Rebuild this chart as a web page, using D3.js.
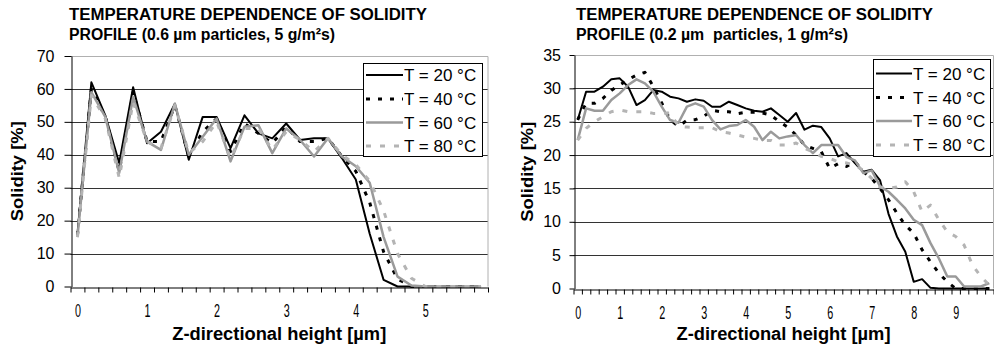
<!DOCTYPE html>
<html><head><meta charset="utf-8">
<script src="https://cdn.jsdelivr.net/npm/d3@7"></script>
<style>body{margin:0;background:#fff}svg{display:block}text{font-family:"Liberation Sans",Arial,sans-serif}</style>
</head><body><svg id="c" width="994" height="360"></svg>
<script>
const leftCats = [0,0.2,0.4,0.6,0.8,1,1.2,1.4,1.6,1.8,2,2.2,2.4,2.6,2.8,3,3.2,3.4,3.6,3.8,4,4.2,4.4,4.6,4.8,5,5.2,5.4,5.6,5.8];
const leftT20 = [16,62,52,37.5,60.5,43.5,47,55.5,38.5,51.5,51.5,42,52,46.5,45,49.5,44.5,45,45,39,32.5,16,2,0,0,0,0,0,0,0];
const leftT40 = [15.5,60,51.5,35,59,44,44,55,39.5,47,51,41,49.5,46.5,43.5,48.5,44,44,45,39.5,35,25.5,10.5,2.3,0,0,0,0,0,0];
const leftT60 = [15,59,51.5,34.5,57.5,44,41.5,55.5,40,45.5,51,38,48.5,49,40.5,48,44.5,39.5,45,39.5,36.5,31.5,15,3,0.3,0,0,0,0,0];
const leftT80 = [15,58,51,33,56,44,42,55,40.5,44,50,39,48,48,41.5,47,44.5,41,45,40,37,32,23,10,2.5,0,0,0,0,0];
const leftYTicks = [0,10,20,30,40,50,60,70];

const rightCats = [0,0.2,0.4,0.6,0.8,1,1.2,1.4,1.6,1.8,2,2.2,2.4,2.6,2.8,3,3.2,3.4,3.6,3.8,4,4.2,4.4,4.6,4.8,5,5.2,5.4,5.6,5.8,6,6.2,6.4,6.6,6.8,7,7.2,7.4,7.6,7.8,8,8.2,8.4,8.6,8.8,9,9.2,9.4,9.6,9.8];
const rightT20 = [25.25,29.5,29.5,30.25,31.35,31.5,30.25,27.5,28.25,29.75,29.5,28.75,28.5,28,28.35,28.15,27.25,27.25,28,27.5,27,26.65,26.5,27,26,25,26.3,23.8,24.4,24.2,22.5,19.8,20.3,18.8,17.5,17.8,16.2,11.2,7.8,5.5,1,1.4,0.1,0,0,0,0,0,0,0];
const rightT40 = [25.3,27.75,27.75,28.5,29.7,30.5,31.3,32,32.4,30.3,27.8,25.3,24.3,25.2,25.3,25.8,26.7,26.5,26.5,26.2,26.4,26.4,26.3,26,25,24.2,23,21.5,21,20.5,18,18.7,18.3,19,17.5,16.5,15,13.3,11.3,9.5,8.3,5.8,4,2.3,1,0,0,0,0,0];
const rightT60 = [22.25,27,26.65,26.65,28.25,29.25,30.5,31.35,30.75,29.5,27.25,25.25,24.85,27.25,27.75,27.25,25.25,23.85,24.35,24.5,25.25,24.25,22.25,23.5,22.5,22.8,23,21.5,20.3,21.5,21.5,21.5,19.7,19.2,17.3,17.7,15.3,14.5,13.3,12,10.3,9.5,6.8,4.5,1.8,1.8,0.3,0.3,0.3,0.8];
const rightT80 = [22.25,24,25,25.75,26.5,26.75,26.5,26.5,26.5,26.25,26.25,26.3,24.3,24.2,24.1,24.1,24.1,23.5,23.3,23,22.7,22.5,22.2,22.2,21.5,21.5,21.8,21,20.5,19.8,19.5,19,18.8,18.5,17.7,16.5,15.2,15,15.2,16,14.5,11.5,12.5,10.3,8.5,7.8,6.5,3.5,1.8,0.5];
const rightYTicks = [0,5,10,15,20,25,30,35];

const seriesNames = ["T = 20 °C","T = 40 °C","T = 60 °C","T = 80 °C"];
const styles = [
  {stroke:"#000", width:2, dash:null},
  {stroke:"#000", width:3, dash:"4,8"},
  {stroke:"#9a9a9a", width:2.5, dash:null},
  {stroke:"#b4b4b4", width:3, dash:"5,9"}
];

const svg = d3.select("#c");

function chart(o) {
  const g = svg.append("g");
  const n = o.cats.length;
  const x = d3.scaleLinear().domain([0, n]).range([o.x0, o.x1]);
  const y = d3.scaleLinear().domain([0, o.ymax]).range([o.yb, o.yt]);
  g.append("g").selectAll("line").data(o.yticks.filter(v => v > 0 && v < o.ymax)).join("line")
    .attr("x1", o.x0).attr("x2", o.x1).attr("y1", d => Math.round(y(d)) + 0.5).attr("y2", d => Math.round(y(d)) + 0.5)
    .attr("stroke", "#333").attr("stroke-width", 1);
  g.append("path").attr("d", `M${o.x0},${Math.round(o.yt)+0.5}H${o.x1}V${o.yb}`).attr("fill","none").attr("stroke","#b0b0b0");
  const line = d3.line().x((d, i) => x(i + 0.5)).y(d => y(d));
  o.series.forEach((s, k) => {
    const st = styles[k];
    g.append("path").datum(s).attr("d", line).attr("fill", "none")
      .attr("stroke", st.stroke).attr("stroke-width", st.width)
      .attr("stroke-dasharray", st.dash).attr("stroke-linejoin", "round");
  });
  const ya = g.append("g").attr("transform", `translate(${Math.round(o.x0)+0.5},0)`)
    .call(d3.axisLeft(y).tickValues(o.yticks).tickSize(o.ytick).tickPadding(o.ypad).tickSizeOuter(0));
  ya.select(".domain").attr("stroke", "#000");
  ya.selectAll("text").style("font-size", "16px").attr("fill", "#000").style("font-family", '"Liberation Sans",Arial,sans-serif');
  const xa = g.append("g").attr("transform", `translate(0,${Math.round(o.yb)+0.5})`)
    .call(d3.axisBottom(x).tickValues(d3.range(0, n + 1)).tickSize(5).tickSizeOuter(0).tickFormat(""));
  xa.select(".domain").attr("stroke", "#000");
  const labIdx = d3.range(0, n).filter(i => Number.isInteger(o.cats[i]));
  const xl = g.append("g").attr("transform", `translate(0,${o.yb})`)
    .call(d3.axisBottom(x).tickValues(labIdx.map(i => i + 0.5)).tickSize(0).tickPadding(24)
      .tickFormat(v => String(o.cats[Math.floor(v)])));
  xl.select(".domain").remove();
  xl.selectAll("text").style("font-size", "18px").attr("fill", "#000").attr("dy", "0.36em").attr("transform", "scale(0.6,1)")
    .style("font-family", '"Liberation Sans",Arial,sans-serif');
  g.append("text").attr("x", (o.x0 + o.x1) / 2).attr("y", 340).attr("text-anchor", "middle")
    .attr("font-size", 18).attr("font-weight", "bold").attr("textLength", 214).attr("lengthAdjust", "spacingAndGlyphs")
    .text("Z-directional height [µm]");
  g.append("text").attr("transform", `translate(${o.ylabX},${(o.yt + o.yb) / 2}) rotate(-90)`)
    .attr("text-anchor", "middle").attr("font-size", 16).attr("font-weight", "bold")
    .attr("textLength", 100).attr("lengthAdjust", "spacingAndGlyphs").text("Solidity [%]");
  o.title.forEach((t, k) => {
    g.append("text").attr("x", o.titleX).attr("y", 20 + k * 19.5).attr("font-size", 16).attr("font-weight", "bold")
      .attr("textLength", o.titleW[k]).attr("lengthAdjust", "spacingAndGlyphs")
      .style("white-space", "pre").text(t);
  });
  const L = o.legend;
  g.append("rect").attr("x", L.x + 0.5).attr("y", L.y + 0.5).attr("width", L.w).attr("height", L.h)
    .attr("fill", "#fff").attr("stroke", "#000");
  seriesNames.forEach((nm, k) => {
    const ry = L.rows[k];
    const st = styles[k];
    g.append("line").attr("x1", L.lx0).attr("x2", L.lx1).attr("y1", ry).attr("y2", ry)
      .attr("stroke", st.stroke).attr("stroke-width", st.width).attr("stroke-dasharray", st.dash);
    g.append("text").attr("x", L.tx).attr("y", ry + 6).attr("font-size", 17).text(nm);
  });
}

chart({
  cats: leftCats, series: [leftT20, leftT40, leftT60, leftT80], yticks: leftYTicks, ymax: 70,
  x0: 70.5, x1: 488, yt: 56, yb: 286.5, ytick: 7, ypad: 10, ylabX: 23,
  title: ["TEMPERATURE DEPENDENCE OF SOLIDITY", "PROFILE (0.6 µm particles, 5 g/m²s)"], titleX: 69, titleW: [358, 266],
  legend: {x: 363, y: 63, w: 119, h: 93, rows: [75, 99, 122.5, 146], lx0: 366, lx1: 403, tx: 404}
});
chart({
  cats: rightCats, series: [rightT20, rightT40, rightT60, rightT80], yticks: rightYTicks, ymax: 35,
  x0: 573.5, x1: 993.5, yt: 55, yb: 288.5, ytick: 5, ypad: 8.5, ylabX: 533,
  title: ["TEMPERATURE DEPENDENCE OF SOLIDITY", "PROFILE (0.2 µm  particles, 1 g/m²s)"], titleX: 576, titleW: [357, 272],
  legend: {x: 873, y: 59, w: 117, h: 97, rows: [73.5, 97.5, 121, 145], lx0: 876, lx1: 912, tx: 913}
});
</script></body></html>
